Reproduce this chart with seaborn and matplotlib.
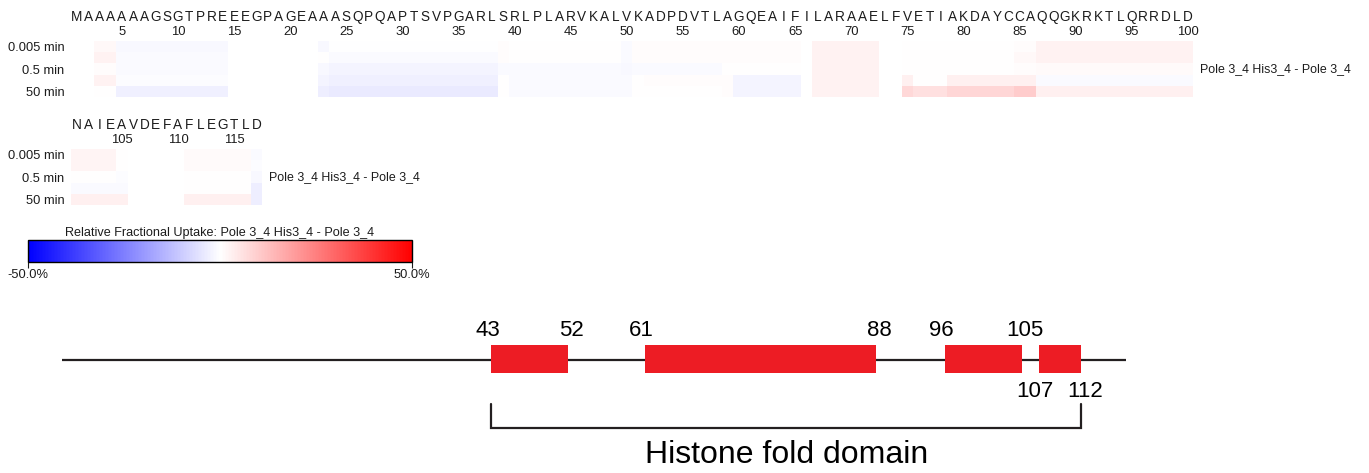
import numpy as np
import pandas as pd
import matplotlib
matplotlib.use("Agg")
import matplotlib.pyplot as plt
from matplotlib.patches import Rectangle
from matplotlib.colors import Normalize
from matplotlib.cm import ScalarMappable
import seaborn as sns

sns.set_style("white")
plt.rcParams["font.family"] = ["Liberation Sans", "DejaVu Sans"]

# ---------------------------------------------------------------- data
sequence_a = "MAAAAAAGSGTPREEEGPAGEAAASQPQAPTSVPGARLSRLPLARVKALVKADPDVTLAGQEAIFILARAAELFVETIAKDAYCCAQQGKRKTLQRRDLD"
sequence_b = "NAIEAVDEFAFLEGTLD"
time_points = ["0.005 min", "0.5 min", "50 min"]
comparison = "Pole 3_4 His3_4 - Pole 3_4"
scale_limits = [-50.0, 50.0]

# covered residue segments (first, last) for residues 1-100
seg_start_a = [3, 5, 23, 24, 39, 40, 50, 51, 52, 59, 60, 67, 75, 76, 79, 85, 87]
seg_end_a = [4, 14, 23, 38, 39, 49, 50, 51, 58, 59, 65, 72, 75, 78, 84, 86, 100]
# relative fractional uptake difference (%) per segment, one list per heat-map band
band1_a = [1.5, -1.2, -1.5, -0.2, 0.5, 0.0, -1.0, 0.7, 0.7, 0.7, 0.7, 2.5, 0.3, 0.0, 0.0, 0.5, 2.5]
band2_a = [2.5, -1.0, 0.0, -0.8, 0.5, 0.0, -1.0, 0.7, 0.7, 0.7, 0.7, 2.5, 0.3, 0.0, 0.0, 1.5, 2.5]
band3_a = [0.5, -1.0, -1.2, -2.0, -1.0, -1.0, -1.5, -1.0, -1.0, 0.0, 0.0, 2.5, 0.3, 0.0, 0.0, 0.5, 1.0]
band4_a = [2.5, -0.5, -2.0, -3.0, 0.0, -1.0, -1.0, 0.0, 0.5, 0.5, -2.0, 2.5, 3.0, 0.0, 3.0, 3.0, -1.0]
band5_a = [0.0, -3.0, -3.5, -4.0, 0.0, -1.0, -1.0, 0.0, 0.0, 0.5, -2.0, 2.5, 7.5, 6.0, 8.0, 10.0, 3.0]

# covered residue segments for residues 101-117
seg_start_b = [101, 105, 111, 117]
seg_end_b = [104, 105, 116, 117]
band1_b = [2.0, 0.0, 1.0, -0.8]
band2_b = [2.0, 0.0, 1.0, -0.5]
band3_b = [0.3, -0.5, 0.0, -1.5]
band4_b = [-1.0, -1.0, 0.3, -3.5]
band5_b = [3.0, 3.0, 3.0, -3.5]

# secondary-structure schematic (helix residue ranges) and fold domain
helix_start = [43, 61, 96, 107]
helix_end = [52, 88, 105, 112]
labels_below = [False, False, False, True]
domain_range = [43, 112]
domain_name = "Histone fold domain"

# ---------------------------------------------------------------- layout helpers
W, H = 1369, 473
fig = plt.figure(figsize=(W / 100, H / 100), dpi=100)
fig.patch.set_facecolor("white")


def px_axes(x0, y0, x1, y1):
    return fig.add_axes([x0 / W, 1 - y1 / H, (x1 - x0) / W, (y1 - y0) / H])


def band_matrix(first, last, starts, ends, bands):
    mat = np.full((len(bands), last - first + 1), np.nan)
    for r, vals in enumerate(bands):
        for s, e, v in zip(starts, ends, vals):
            mat[r, s - first:e - first + 1] = v
    return pd.DataFrame(mat, columns=range(first, last + 1))


TXT = "#1c1c1c"
CELL = 11.22
ROW_H = 11.2


def draw_block(top, first, seq, bands, starts, ends):
    n = len(seq)
    left = 71.4
    ax = px_axes(left, top, left + n * CELL, top + 5 * ROW_H)
    data = band_matrix(first, first + n - 1, starts, ends, bands)
    sns.heatmap(data, ax=ax, cmap="bwr", vmin=scale_limits[0], vmax=scale_limits[1],
                cbar=False, xticklabels=False, yticklabels=False)
    ax.set_facecolor("white")
    ax.set_yticks([0.5, 2.5, 4.5])
    ax.set_yticklabels(time_points, fontsize=9.3, color=TXT)
    ax.tick_params(axis="y", length=0, pad=5)
    ax.tick_params(axis="x", length=0)
    ax.set_xlabel("")
    for sp in ax.spines.values():
        sp.set_visible(False)
    for i, aa in enumerate(seq):
        ax.text(i + 0.5, -2.15, aa, ha="center", va="center", fontsize=9.8,
                color=TXT, clip_on=False)
        resnum = first + i
        if resnum % 5 == 0:
            ax.text(i + 0.5, -0.78, str(resnum), ha="center", va="center",
                    fontsize=9.4, color=TXT, clip_on=False)
    ax.annotate(comparison, xy=(1, 0.5), xycoords="axes fraction",
                xytext=(5.0, 0), textcoords="offset points",
                ha="left", va="center", fontsize=8.9, color=TXT)
    return ax


draw_block(41, 1, sequence_a, [band1_a, band2_a, band3_a, band4_a, band5_a],
           seg_start_a, seg_end_a)
draw_block(149, 101, sequence_b, [band1_b, band2_b, band3_b, band4_b, band5_b],
           seg_start_b, seg_end_b)

# ---------------------------------------------------------------- colour scale
cax = px_axes(28, 240, 412, 262)
sm = ScalarMappable(norm=Normalize(*scale_limits), cmap="bwr")
cb = fig.colorbar(sm, cax=cax, orientation="horizontal")
cb.set_ticks(scale_limits)
cb.set_ticklabels([f"{v:.1f}%" for v in scale_limits])
cb.ax.tick_params(length=4, width=0.8, labelsize=9.3, pad=1, colors=TXT)
cb.outline.set_edgecolor("black")
cb.outline.set_linewidth(1.0)
cax.text(0.5, 1.18, "Relative Fractional Uptake: " + comparison, transform=cax.transAxes,
         ha="center", va="baseline", fontsize=9.1, color=TXT)

# ---------------------------------------------------------------- domain schematic
dax = px_axes(62, 300, 1126, 473)
dax.set_xlim(-7.1, 117.2)
dax.set_ylim(473, 300)
dax.axis("off")

LINE_Y, BOX_TOP, BOX_H = 360, 345, 28
dax.axhline(LINE_Y, color="#231f20", lw=1.6, zorder=1)
for s, e, below in zip(helix_start, helix_end, labels_below):
    dax.add_patch(Rectangle((s, BOX_TOP), e - s, BOX_H, facecolor="#ed1c24",
                            edgecolor="none", zorder=2))
    ly = 391 if below else 330
    # start labels nudged left, end labels nudged right of the helix edges
    for r, dx in ((s, -2.5), (e, 2.5)):
        dax.annotate(str(r), xy=(r, ly), xytext=(dx, 0), textcoords="offset points",
                     ha="center", va="center", fontsize=16, color="black")

d0, d1 = domain_range
dax.plot([d0, d0, d1, d1], [404, 428, 428, 404], color="#231f20", lw=1.6,
         solid_joinstyle="miter", clip_on=False)
dax.text((d0 + d1) / 2, 455, domain_name, ha="center", va="center", fontsize=23,
         color="black")

fig.savefig("out.png", dpi=100, facecolor="white")
